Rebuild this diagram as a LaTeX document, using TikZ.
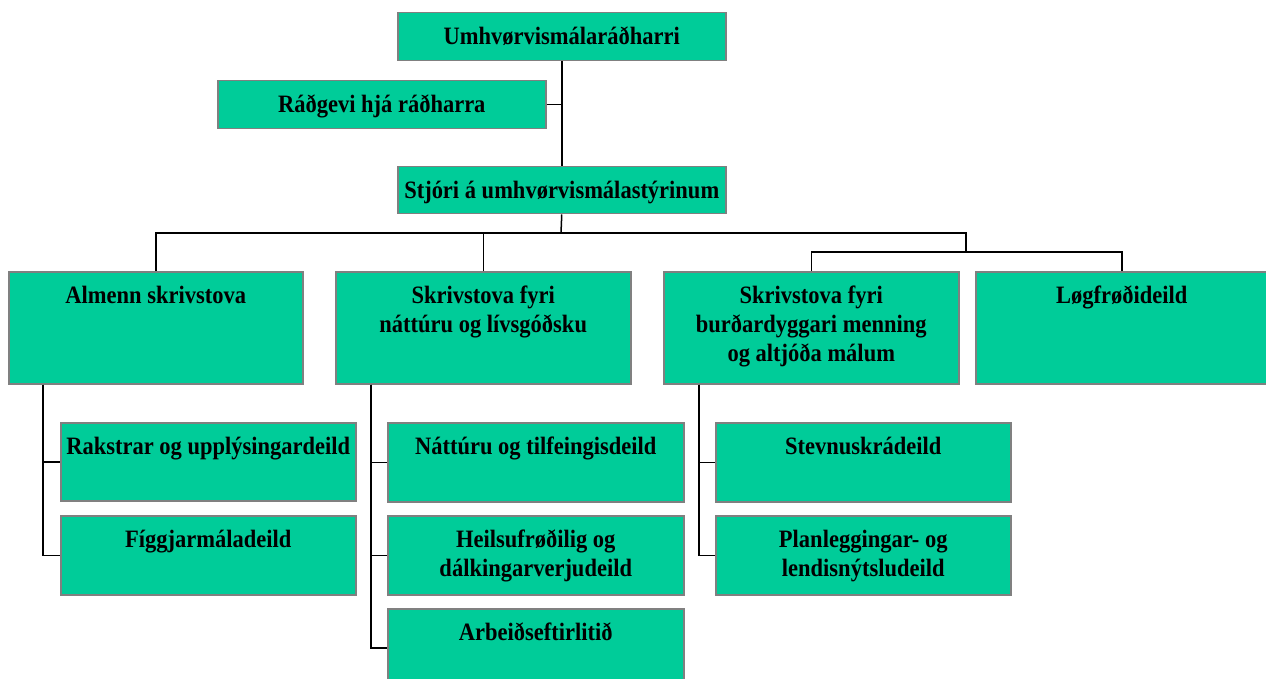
\documentclass[tikz,border=0pt]{standalone}
\usepackage{fontspec}
\setmainfont{Liberation Serif}[FakeStretch=0.9]
\definecolor{boxgreen}{RGB}{0,204,153}
\definecolor{boxborder}{RGB}{128,128,128}
\newcommand\bx[3]{\parbox[t][#2][t]{#1}{\centering\rule{0pt}{32pt}#3}}
\tikzset{
  box/.style={draw=boxborder, line width=1.5pt, fill=boxgreen, inner sep=0pt, anchor=north west,
    font=\fontsize{25}{29}\selectfont\bfseries},
  conn/.style={draw=black, line width=1.5pt}
}
\begin{document}
\begin{tikzpicture}[x=1pt,y=-1pt]
\useasboundingbox (0,0) rectangle (1266,679);
% top
\node[box] (min) at (397,12) {\bx{328pt}{48pt}{Umhvørvismálaráðharri}};
\node[box] (adv) at (217,80) {\bx{328pt}{48pt}{Ráðgevi hjá ráðharra}};
\node[box] (stj) at (397,166) {\bx{328pt}{47pt}{Stjóri á umhvørvismálastýrinum}};
% row 2
\node[box] (alm) at (8,271) {\bx{294pt}{112pt}{Almenn skrivstova}};
\node[box] (nat) at (335,271) {\bx{295pt}{112pt}{Skrivstova fyri\\náttúru og lívsgóðsku}};
\node[box] (bur) at (663,271) {\bx{295pt}{112pt}{Skrivstova fyri\\burðardyggari menning\\og altjóða málum}};
\node[box] (log) at (975,271) {\bx{292pt}{112pt}{Løgfrøðideild}};
% row 3
\node[box] (rak) at (60,422) {\bx{295pt}{78pt}{Rakstrar og upplýsingardeild}};
\node[box] (fig) at (60,515) {\bx{295pt}{79pt}{Fíggjarmáladeild}};
\node[box] (nt1) at (387,422) {\bx{296pt}{79pt}{Náttúru og tilfeingisdeild}};
\node[box] (hei) at (387,515) {\bx{296pt}{79pt}{Heilsufrøðilig og\\dálkingarverjudeild}};
\node[box] (arb) at (387,608) {\bx{296pt}{78pt}{Arbeiðseftirlitið}};
\node[box] (ste) at (715,422) {\bx{295pt}{79pt}{Stevnuskrádeild}};
\node[box] (pla) at (715,515) {\bx{295pt}{79pt}{Planleggingar- og\\lendisnýtsludeild}};
% connectors
\coordinate (bus) at (561,233);
\coordinate (j2) at (966,252);
\draw[conn] (min.south) -- (stj.north);
\draw[conn] (adv.east) -- (adv.east -| min.south);
\draw[conn] (stj.south) -- (bus);
\draw[conn] (alm.north) |- (bus);
\draw[conn] (nat.north) |- (bus);
\draw[conn] (j2) |- (bus);
\draw[conn] (bur.north) |- (j2) -| (log.north);
\draw[conn] ([xshift=35pt]alm.south west) |- (rak.west);
\draw[conn] ([xshift=35pt]alm.south west) |- (fig.west);
\draw[conn] ([xshift=36pt]nat.south west) |- (nt1.west);
\draw[conn] ([xshift=36pt]nat.south west) |- (hei.west);
\draw[conn] ([xshift=36pt]nat.south west) |- (arb.west);
\draw[conn] ([xshift=36pt]bur.south west) |- (ste.west);
\draw[conn] ([xshift=36pt]bur.south west) |- (pla.west);
\end{tikzpicture}
\end{document}
